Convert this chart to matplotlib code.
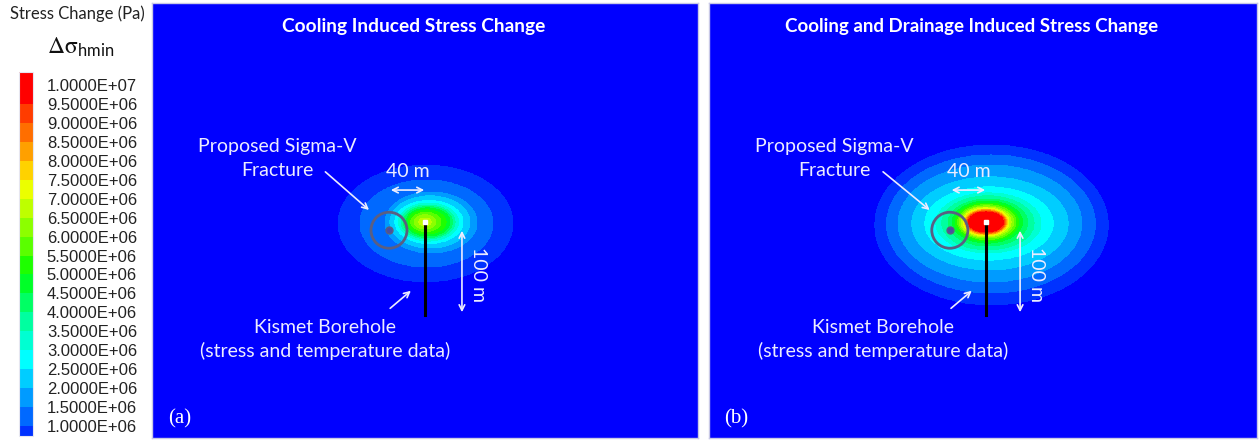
import numpy as np
import matplotlib
matplotlib.use('Agg')
import matplotlib.pyplot as plt
from matplotlib.colors import ListedColormap, BoundaryNorm
from matplotlib.patches import Circle
import matplotlib.colorbar as mcolorbar

# colour scale (bottom -> top), as in the legend
cb_colors = ['#0032ff', '#0069ff', '#009bff', '#00cdff', '#00ffff', '#00ffd2',
             '#00ffa0', '#00ff64', '#00ff28', '#1eff00', '#5aff00', '#8cff00',
             '#beff00', '#ebff00', '#ffd200', '#ffa000', '#ff6e00', '#ff3c00',
             '#ff0000']
cb_bounds = [0.74e6, 1.0e6, 1.5e6, 2.0e6, 2.5e6, 3.0e6, 3.5e6, 4.0e6, 4.5e6,
             5.0e6, 5.5e6, 6.0e6, 6.5e6, 7.0e6, 7.5e6, 8.0e6, 8.5e6, 9.0e6,
             9.5e6, 1.034e7]
cb_ticks = [1.0e6, 1.5e6, 2.0e6, 2.5e6, 3.0e6, 3.5e6, 4.0e6, 4.5e6, 5.0e6,
            5.5e6, 6.0e6, 6.5e6, 7.0e6, 7.5e6, 8.0e6, 8.5e6, 9.0e6, 9.5e6, 1.0e7]
bg_color = '#0000ff'

# contour rings (m, relative to borehole top), outer -> inner
stress_a = [0.87e6, 1.25e6, 1.75e6, 2.25e6, 2.75e6, 3.25e6, 3.75e6, 4.25e6,
            4.75e6, 5.25e6, 5.75e6, 6.25e6, 6.75e6]
semi_x_a = [100.6, 76.4, 52.9, 46.0, 39.1, 34.5, 31.0, 28.2, 25.3, 21.8, 17.2, 12.6, 7.0]
semi_y_a = [67.2, 50.0, 35.1, 29.9, 24.7, 21.8, 19.5, 17.8, 16.1, 13.8, 10.9, 8.0, 4.6]
shift_x_a = [0.6, 1.7, 6.9, 5.7, 4.6, 4.0, 3.4, 3.4, 3.4, 2.3, 1.1, 0.0, 0.0]
shift_y_a = [-1.7, -1.7, -0.6, 0.0, 0.0, 0.0, 0.0, 0.0, 0.0, 0.0, 0.0, 0.0, 0.0]

stress_b = [0.87e6, 1.25e6, 1.75e6, 2.25e6, 2.75e6, 3.25e6, 3.75e6, 4.25e6,
            4.75e6, 5.25e6, 5.75e6, 6.25e6, 6.75e6, 7.25e6, 7.75e6, 8.25e6,
            8.75e6, 9.25e6, 9.75e6]
semi_x_b = [133.9, 119.5, 105.2, 89.7, 73.6, 60.3, 52.9, 45.4, 40.2, 36.2, 33.3,
            31.0, 28.7, 26.4, 24.7, 23.6, 22.4, 21.3, 20.1]
semi_y_b = [92.0, 79.3, 67.2, 53.4, 42.0, 34.5, 31.0, 27.0, 24.1, 21.8, 20.1,
            18.4, 17.2, 16.1, 14.9, 14.1, 13.2, 12.4, 11.5]
shift_x_b = [6.3, 5.7, 4.6, 4.6, 3.4, 2.9, 2.3, 2.3, 1.7, 1.1, 1.1, 0.6, 0.0,
             0.0, 0.0, 0.0, 0.0, 0.0, 0.0]
shift_y_b = [-3.4, -2.3, -1.7, -1.7, -1.7, -1.1, -1.1, -0.6, 0.0, 0.0, 0.0, 0.0,
             0.0, 0.0, 0.0, 0.0, 0.0, 0.0, 0.0]

titles = ['Cooling Induced Stress Change', 'Cooling and Drainage Induced Stress Change']
title_sizes = [13.8, 13.5]
panel_tags = ['(a)', '(b)']
borehole_x = [0.0, 3.4]
borehole_y = -1.7
borehole_bottom = -108.6
fracture_dx = -41.4
fracture_dy = -9.5
fracture_r = 20.7

txt_col = '#ececff'
sans = ['Lato', 'DejaVu Sans']
plt.rcParams['mathtext.fontset'] = 'stix'

fig = plt.figure(figsize=(12.59, 4.41), dpi=100)

x = np.linspace(-314, 314, 1400)
y = np.linspace(-250, 250, 1100)
X, Y = np.meshgrid(x, y)

fill_levels = [-1.0] + cb_bounds[:-1] + [2e7]
fill_colors = [bg_color] + cb_colors

rings = [(stress_a, semi_x_a, semi_y_a, shift_x_a, shift_y_a),
         (stress_b, semi_x_b, semi_y_b, shift_x_b, shift_y_b)]
positions = [[152/1259, 3/441, 546/1259, 435/441],
             [709/1259, 3/441, 548/1259, 435/441]]

for k in range(2):
    ax = fig.add_axes(positions[k])
    bx = borehole_x[k]
    s, sx, sy, dx, dy = rings[k]
    Z = np.zeros_like(X)
    for i in range(len(s)):
        inside = ((X - bx - dx[i]) / sx[i])**2 + ((Y - borehole_y - dy[i]) / sy[i])**2 <= 1
        Z[inside] = s[i]
    ax.contourf(X, Y, Z, levels=fill_levels, colors=fill_colors, antialiased=False)
    ax.set_xlim(-314, 314)
    ax.set_ylim(-250, 250)
    ax.set_xticks([])
    ax.set_yticks([])
    for sp in ax.spines.values():
        sp.set_color('#c8c8e6')
        sp.set_linewidth(1.0)

    # borehole and fracture
    ax.plot([bx, bx], [borehole_y, borehole_bottom], color='black', lw=2.2, zorder=5)
    ax.plot([bx], [borehole_y], marker='s', ms=3.5, color='white', mec='white', zorder=6)
    cx = bx + fracture_dx
    cy = borehole_y + fracture_dy
    ax.add_patch(Circle((cx, cy), fracture_r, fill=False, ec='#5a5f82', lw=2.0, zorder=5))
    ax.plot([cx], [cy], marker='o', ms=5, color='#4b50a0', mec='#5a5f82', zorder=6)

    # text and arrows
    ax.text(-13, 223, titles[k], color='white', fontsize=title_sizes[k], fontweight='bold',
            family=sans, ha='center', va='center')
    ax.text(-170, 85, 'Proposed Sigma-V', color=txt_col, fontsize=14,
            family=sans, ha='center', va='center')
    ax.text(-170, 58, 'Fracture', color=txt_col, fontsize=14,
            family=sans, ha='center', va='center')
    ax.text(-19.5 + bx, 56, '40 m', color=txt_col, fontsize=14,
            family=sans, ha='center', va='center')
    ax.annotate('', xy=(2.3 + bx, 35), xytext=(-42.5 + bx, 35),
                arrowprops=dict(arrowstyle='<->', color=txt_col, lw=1.2))
    ax.annotate('', xy=(-62 + bx, 10), xytext=(-117, 58),
                arrowprops=dict(arrowstyle='->', color=txt_col, lw=1.2))
    ax.text(61, -61.5, '100 m', color=txt_col, fontsize=14, rotation=-90,
            family=sans, ha='center', va='center')
    ax.annotate('', xy=(42.5, -108.6), xytext=(42.5, -8.6),
                arrowprops=dict(arrowstyle='<->', color=txt_col, lw=1.2))
    ax.annotate('', xy=(-13.8 + bx, -78.7), xytext=(-42.5 + bx, -103),
                arrowprops=dict(arrowstyle='->', color=txt_col, lw=1.2))
    ax.text(-115, -122.5, 'Kismet Borehole', color=txt_col, fontsize=14,
            family=sans, ha='center', va='center')
    ax.text(-115, -150, '(stress and temperature data)', color=txt_col, fontsize=14,
            family=sans, ha='center', va='center')
    ax.text(0.05, 0.045, panel_tags[k], transform=ax.transAxes, color='white',
            fontsize=15, family='Liberation Serif', ha='center', va='center')

# colour bar on the left
cax = fig.add_axes([19/1259, 5/441, 14/1259, 364/441])
cb = mcolorbar.ColorbarBase(cax, cmap=ListedColormap(cb_colors),
                            norm=BoundaryNorm(cb_bounds, len(cb_colors)),
                            boundaries=cb_bounds, ticks=cb_ticks,
                            spacing='proportional', orientation='vertical')
cb.outline.set_edgecolor('#e6e6f0')
cb.outline.set_linewidth(0.8)
cax.minorticks_off()
cax.set_yticks(cb_ticks)
cax.set_yticklabels(['%.4E' % v for v in cb_ticks])
cax.tick_params(length=0, pad=10, labelsize=12)
for lab in cax.get_yticklabels():
    lab.set_family('Liberation Sans')
    lab.set_color('#222222')

fig.text(77/1259, 1 - 14/441, 'Stress Change (Pa)', fontsize=12, family=sans,
         color='#222222', ha='center', va='center')
fig.text(81/1259, 1 - 47/441, r'$\mathrm{\Delta\sigma}_{\mathregular{hmin}}$', fontsize=17,
         color='#111111', ha='center', va='center', family=sans)

fig.savefig('out.png', dpi=100)
